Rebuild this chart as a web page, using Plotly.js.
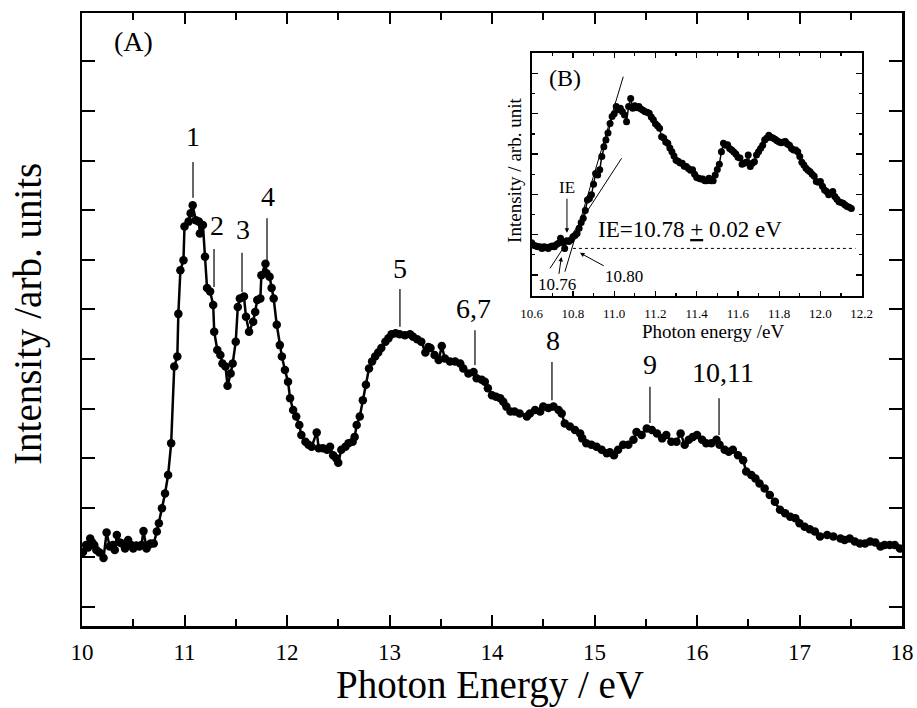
<!DOCTYPE html>
<html>
<head>
<meta charset="utf-8">
<script src="https://cdn.plot.ly/plotly-3.0.1.min.js"></script>
<style>html,body{margin:0;padding:0;background:#fff;}#chart{width:917px;height:708px;}</style>
</head>
<body>
<div id="chart"></div>
<script>
// ---- Main spectrum (A) ----
const energy = [10.01,10.04,10.06,10.08,10.10,10.12,10.14,10.17,10.21,10.24,10.27,10.30,10.32,10.34,10.37,10.39,10.42,10.45,10.48,10.50,10.53,10.56,10.58,10.60,10.63,10.65,10.67,10.70,10.73,10.75,10.78,10.81,10.84,10.87,10.90,10.93,10.94,10.96,10.99,11.00,11.04,11.06,11.08,11.11,11.14,11.15,11.18,11.20,11.22,11.25,11.28,11.29,11.32,11.35,11.37,11.40,11.42,11.45,11.47,11.50,11.52,11.54,11.58,11.60,11.63,11.67,11.69,11.71,11.74,11.75,11.79,11.80,11.83,11.85,11.87,11.90,11.93,11.95,11.98,12.01,12.03,12.06,12.09,12.12,12.14,12.18,12.21,12.24,12.29,12.31,12.35,12.39,12.42,12.45,12.48,12.50,12.53,12.57,12.60,12.64,12.66,12.68,12.71,12.74,12.77,12.80,12.83,12.86,12.89,12.92,12.96,12.99,13.02,13.06,13.10,13.15,13.20,13.23,13.27,13.31,13.35,13.38,13.40,13.44,13.48,13.51,13.54,13.59,13.64,13.69,13.72,13.77,13.82,13.85,13.90,13.93,13.96,14.00,14.04,14.08,14.11,14.14,14.18,14.22,14.27,14.34,14.37,14.42,14.47,14.50,14.55,14.60,14.65,14.68,14.71,14.76,14.81,14.86,14.88,14.92,14.97,15.02,15.07,15.12,15.15,15.19,15.23,15.28,15.33,15.38,15.41,15.46,15.51,15.56,15.61,15.66,15.70,15.75,15.80,15.84,15.88,15.92,15.96,16.00,16.05,16.09,16.14,16.19,16.22,16.27,16.31,16.35,16.40,16.45,16.48,16.53,16.57,16.61,16.66,16.71,16.76,16.81,16.86,16.91,16.96,17.00,17.05,17.10,17.15,17.20,17.27,17.33,17.40,17.44,17.49,17.54,17.59,17.64,17.69,17.74,17.79,17.83,17.88,17.93,17.98];
const intensity = [1.11,1.25,1.20,1.38,1.30,1.25,1.15,1.10,0.99,1.50,1.22,1.25,1.15,1.45,1.30,1.28,1.18,1.35,1.25,1.18,1.24,1.22,1.25,1.53,1.18,1.25,1.28,1.28,1.52,1.69,1.99,2.29,2.66,3.30,4.85,5.05,5.91,6.79,6.99,7.67,7.77,7.94,8.10,7.80,7.77,7.53,7.70,7.06,6.43,6.36,6.09,5.55,5.18,5.08,4.91,4.85,4.46,4.71,4.91,5.35,6.05,6.22,6.26,5.85,5.55,5.75,5.95,6.19,6.22,6.69,6.92,6.73,6.66,6.43,6.22,5.69,5.28,5.05,4.78,4.54,4.21,3.97,3.84,3.67,3.47,3.33,3.27,3.23,3.52,3.20,3.20,3.17,3.23,3.06,3.00,2.91,3.17,3.23,3.30,3.33,3.43,3.67,3.84,4.17,4.48,4.81,4.95,5.05,5.13,5.22,5.35,5.42,5.50,5.52,5.50,5.48,5.50,5.45,5.40,5.35,5.13,5.24,5.22,5.08,4.98,5.26,5.01,4.95,4.95,4.91,4.81,4.71,4.74,4.61,4.58,4.54,4.41,4.27,4.24,4.21,4.14,4.04,3.94,3.94,3.90,3.84,3.90,3.97,3.94,4.04,4.01,4.04,3.97,3.90,3.70,3.64,3.57,3.50,3.40,3.30,3.27,3.23,3.17,3.10,3.12,3.06,3.17,3.27,3.27,3.37,3.53,3.47,3.60,3.57,3.50,3.40,3.47,3.33,3.33,3.50,3.27,3.37,3.43,3.47,3.37,3.30,3.30,3.37,3.27,3.17,3.13,3.17,3.06,2.96,2.73,2.66,2.59,2.49,2.39,2.26,2.12,1.96,1.89,1.82,1.79,1.69,1.62,1.57,1.52,1.42,1.45,1.42,1.38,1.35,1.38,1.32,1.28,1.28,1.32,1.30,1.22,1.25,1.25,1.25,1.18];

// ---- Inset spectrum (B) ----
const insetEnergy = [10.60,10.61,10.62,10.63,10.64,10.65,10.66,10.67,10.68,10.69,10.70,10.71,10.72,10.73,10.74,10.75,10.76,10.77,10.78,10.79,10.80,10.81,10.82,10.83,10.84,10.85,10.86,10.87,10.88,10.89,10.90,10.91,10.92,10.93,10.94,10.95,10.96,10.97,10.98,10.99,11.00,11.01,11.02,11.03,11.04,11.05,11.06,11.07,11.08,11.09,11.10,11.11,11.12,11.13,11.14,11.15,11.16,11.17,11.18,11.19,11.20,11.21,11.22,11.23,11.24,11.25,11.26,11.27,11.28,11.29,11.30,11.31,11.32,11.33,11.34,11.35,11.36,11.37,11.38,11.39,11.40,11.41,11.42,11.43,11.44,11.45,11.46,11.47,11.48,11.49,11.50,11.51,11.52,11.53,11.54,11.55,11.56,11.57,11.58,11.59,11.60,11.61,11.62,11.63,11.64,11.65,11.66,11.67,11.68,11.69,11.70,11.71,11.72,11.73,11.74,11.75,11.76,11.77,11.78,11.79,11.80,11.81,11.82,11.83,11.84,11.85,11.86,11.87,11.88,11.89,11.90,11.91,11.92,11.93,11.94,11.95,11.96,11.97,11.98,11.99,12.00,12.01,12.02,12.03,12.04,12.05,12.06,12.07,12.08,12.09,12.10,12.11,12.12,12.13,12.14,12.15];
const insetIntensity = [0.80,0.74,0.72,0.70,0.70,0.66,0.70,0.69,0.66,0.70,0.72,0.70,0.76,0.79,0.91,0.80,0.66,0.85,0.83,0.87,0.95,0.98,1.03,1.16,1.30,1.41,1.60,1.86,1.90,1.99,2.25,2.52,2.48,2.61,2.94,3.18,3.35,3.52,3.76,3.93,4.00,4.18,4.10,4.14,4.05,3.97,3.80,4.18,4.38,4.14,4.20,4.15,4.18,4.12,4.09,4.05,4.04,4.01,3.92,3.85,3.75,3.70,3.64,3.43,3.40,3.30,3.27,3.15,3.06,2.95,2.85,2.82,2.78,2.77,2.70,2.69,2.64,2.60,2.61,2.50,2.42,2.40,2.38,2.38,2.34,2.34,2.40,2.34,2.34,2.48,2.62,2.75,3.06,3.27,3.22,3.23,3.14,3.10,3.05,3.00,2.92,2.90,2.75,2.77,2.80,2.98,2.69,2.77,2.81,2.98,3.06,3.14,3.22,3.35,3.40,3.47,3.42,3.40,3.37,3.33,3.30,3.28,3.30,3.31,3.25,3.22,3.14,3.10,3.10,3.06,2.94,2.80,2.73,2.65,2.60,2.56,2.50,2.45,2.32,2.30,2.32,2.20,2.11,2.07,1.99,2.03,2.07,1.95,1.88,1.82,1.80,1.78,1.74,1.70,1.68,1.65];

// ---- Peak labels (A) ----
const peakLabels = ['1','2','3','4','5','6,7','8','9','10,11'];
const peakEnergy = [11.083,11.288,11.561,11.805,13.102,13.834,14.585,15.541,16.215];
const peakTextEnergy = [11.083,11.317,11.571,11.815,13.102,13.824,14.595,15.541,16.254];

// ---- Ionization energy (B) ----
const ieBaseline = 0.66;
const ieTangentLow = [[10.689,0.166],[11.036,2.896]];
const ieTangentHigh = [[10.761,0.082],[11.044,4.92]];

// label layout (heights in y units)
const peakTextY  = [9.48,7.70,7.62,8.27,6.83,6.01,5.38,4.88,4.72];
const peakLineTop = [8.97,7.22,7.14,7.84,6.41,5.58,4.94,4.44,4.21];
const peakLineBot = [8.25,6.45,6.35,6.94,5.65,4.88,4.17,3.71,3.47];

const FONT = '"Liberation Serif", "Times New Roman", Times, serif';

const traces = [
  {x: energy, y: intensity, type:'scatter', mode:'lines+markers',
   line:{color:'#000', width:2.5}, marker:{color:'#000', size:8.5},
   xaxis:'x', yaxis:'y', hoverinfo:'skip'},
  {x: insetEnergy, y: insetIntensity, type:'scatter', mode:'lines+markers',
   line:{color:'#000', width:1.5}, marker:{color:'#000', size:7},
   xaxis:'x2', yaxis:'y2', hoverinfo:'skip'}
];

const shapes = [];
const annotations = [];
for (let i=0;i<peakLabels.length;i++){
  shapes.push({type:'line', xref:'x', yref:'y', x0:peakEnergy[i], x1:peakEnergy[i],
    y0:peakLineBot[i], y1:peakLineTop[i], line:{color:'#000', width:1.2}});
  annotations.push({xref:'x', yref:'y', x:peakTextEnergy[i], y:peakTextY[i], text:peakLabels[i],
    showarrow:false, font:{family:FONT, size:28, color:'#000'}, xanchor:'center', yanchor:'middle'});
}
// inset lines
shapes.push({type:'line', xref:'x2', yref:'y2', x0:10.80, x1:12.17, y0:ieBaseline, y1:ieBaseline,
  line:{color:'#000', width:1, dash:'dot'}});
shapes.push({type:'line', xref:'x2', yref:'y2', x0:ieTangentLow[0][0], y0:ieTangentLow[0][1],
  x1:ieTangentLow[1][0], y1:ieTangentLow[1][1], line:{color:'#000', width:1}});
shapes.push({type:'line', xref:'x2', yref:'y2', x0:ieTangentHigh[0][0], y0:ieTangentHigh[0][1],
  x1:ieTangentHigh[1][0], y1:ieTangentHigh[1][1], line:{color:'#000', width:1}});

annotations.push(
  {xref:'paper', yref:'paper', x:0.0634, y:0.9527, text:'(A)', showarrow:false,
   font:{family:FONT, size:28, color:'#000'}, xanchor:'center', yanchor:'middle'},
  {xref:'paper', yref:'paper', x:-0.0659, y:0.509, text:'Intensity /arb. units', showarrow:false, textangle:-90,
   font:{family:FONT, size:39, color:'#000'}, xanchor:'center', yanchor:'middle'},
  {xref:'paper', yref:'paper', x:0.4976, y:-0.0962, text:'Photon Energy / eV', showarrow:false,
   font:{family:FONT, size:39, color:'#000'}, xanchor:'center', yanchor:'middle'},
  {xref:'paper', yref:'paper', x:0.769, y:0.481, text:'Photon energy /eV', showarrow:false,
   font:{family:FONT, size:19, color:'#000'}, xanchor:'center', yanchor:'middle'},
  {xref:'paper', yref:'paper', x:0.528, y:0.744, text:'Intensity / arb. unit', showarrow:false, textangle:-90,
   font:{family:FONT, size:19, color:'#000'}, xanchor:'center', yanchor:'middle'},
  {xref:'x2', yref:'y2', x:10.761, y:4.89, text:'(B)', showarrow:false,
   font:{family:FONT, size:24, color:'#000'}, xanchor:'center', yanchor:'middle'},
  {xref:'x2', yref:'y2', x:11.368, y:1.12, text:'IE=10.78 <u>+</u> 0.02 eV', showarrow:false,
   font:{family:FONT, size:23, color:'#000'}, xanchor:'center', yanchor:'middle'},
  {xref:'x2', yref:'y2', x:10.771, y:1.05, text:'IE', showarrow:true, ax:0, ay:-45,
   arrowhead:2, arrowsize:0.9, arrowwidth:1, arrowcolor:'#000',
   font:{family:FONT, size:17, color:'#000'}},
  {xref:'x2', yref:'y2', x:10.744, y:0.45, text:'10.76', showarrow:true, ax:-4, ay:28,
   arrowhead:2, arrowsize:0.9, arrowwidth:1, arrowcolor:'#000',
   font:{family:FONT, size:17, color:'#000'}},
  {xref:'x2', yref:'y2', x:10.834, y:0.55, text:'10.80', showarrow:true, ax:44, ay:24,
   arrowhead:2, arrowsize:0.9, arrowwidth:1, arrowcolor:'#000',
   font:{family:FONT, size:17, color:'#000'}}
);

const layout = {
  width:917, height:708,
  margin:{l:82, r:15, t:13, b:82},
  paper_bgcolor:'#fff', plot_bgcolor:'#fff',
  showlegend:false,
  font:{family:FONT, color:'#000'},
  xaxis:{domain:[0,1], range:[10,18], dtick:1, tick0:10, ticks:'inside', ticklen:11, tickwidth:2,
    tickcolor:'#000', minor:{dtick:0.5, ticks:'inside', ticklen:7, tickwidth:2, tickcolor:'#000'},
    showline:true, linewidth:2.5, linecolor:'#000', mirror:'ticks', showgrid:false, zeroline:false,
    tickfont:{family:FONT, size:23, color:'#000'}, anchor:'y', ticklabelstandoff:4},
  yaxis:{domain:[0,1], range:[-0.383,11.976], dtick:1, tick0:0, ticks:'inside', ticklen:13, tickwidth:2,
    tickcolor:'#000', showline:true, linewidth:2.5, linecolor:'#000', mirror:'ticks', showgrid:false,
    zeroline:false, showticklabels:false, anchor:'x'},
  xaxis2:{domain:[0.5484,0.9508], range:[10.6,12.2], dtick:0.2, tick0:10.6, tickformat:'.1f',
    ticks:'inside', ticklen:5, tickwidth:1.2, tickcolor:'#000',
    minor:{dtick:0.1, ticks:'inside', ticklen:3, tickwidth:1.2, tickcolor:'#000'},
    showline:true, linewidth:2, linecolor:'#000', mirror:'ticks', showgrid:false, zeroline:false,
    tickfont:{family:FONT, size:13, color:'#000'}, anchor:'y2', ticklabelstandoff:4},
  yaxis2:{domain:[0.5383,0.9353], range:[-0.521,5.516], dtick:1, tick0:0, ticks:'inside', ticklen:6,
    tickwidth:1.2, tickcolor:'#000', minor:{dtick:0.5, ticks:'inside', ticklen:3, tickwidth:1.2, tickcolor:'#000'},
    showline:true, linewidth:2, linecolor:'#000', mirror:'ticks', showgrid:false, zeroline:false,
    showticklabels:false, anchor:'x2'},
  shapes: shapes,
  annotations: annotations
};

Plotly.newPlot('chart', traces, layout, {displayModeBar:false, staticPlot:true});
</script>
</body>
</html>
